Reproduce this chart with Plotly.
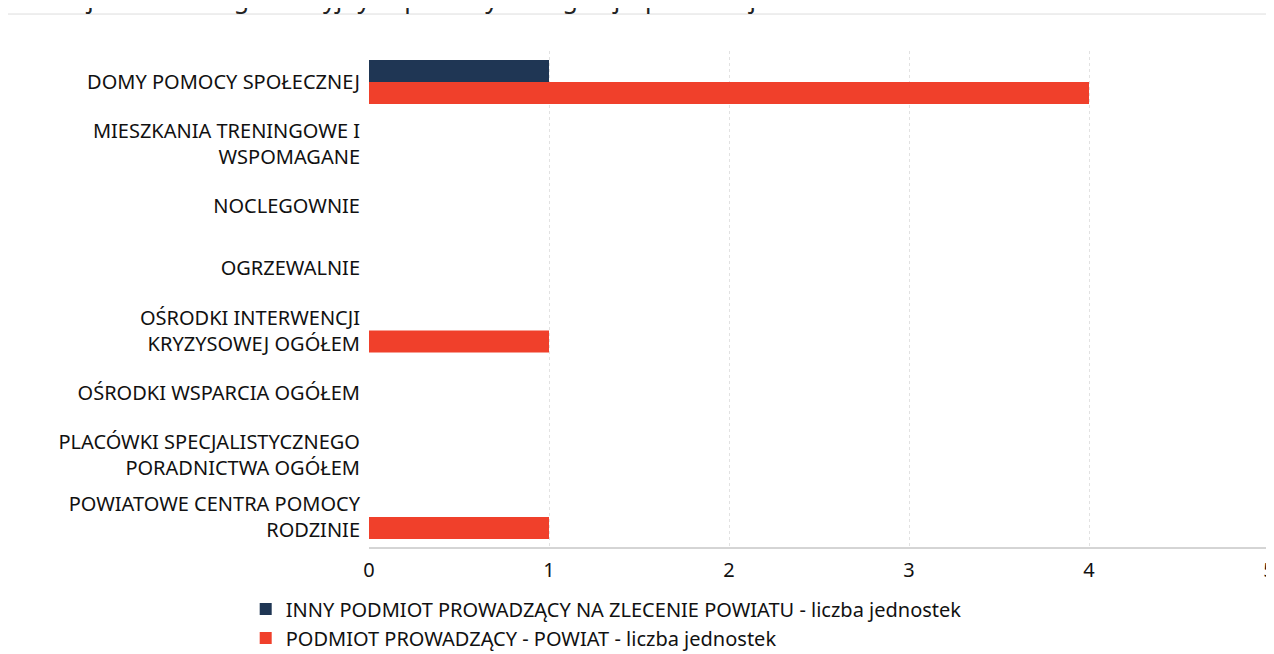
import plotly.graph_objects as go

categories = [
    "DOMY POMOCY SPOŁECZNEJ",
    "MIESZKANIA TRENINGOWE I<br>WSPOMAGANE",
    "NOCLEGOWNIE",
    "OGRZEWALNIE",
    "OŚRODKI INTERWENCJI<br>KRYZYSOWEJ OGÓŁEM",
    "OŚRODKI WSPARCIA OGÓŁEM",
    "PLACÓWKI SPECJALISTYCZNEGO<br>PORADNICTWA OGÓŁEM",
    "POWIATOWE CENTRA POMOCY<br>RODZINIE",
]
inny = [1, 0, 0, 0, 0, 0, 0, 0]
powiat = [4, 0, 0, 0, 1, 0, 0, 1]
x_ticks = [0, 1, 2, 3, 4, 5]

font = "Noto Sans"

fig = go.Figure()
fig.add_trace(go.Bar(
    y=categories, x=inny, orientation="h",
    name="INNY PODMIOT PROWADZĄCY NA ZLECENIE POWIATU - liczba jednostek",
    marker=dict(color="#1f3654", line=dict(width=0)),
))
fig.add_trace(go.Bar(
    y=categories, x=powiat, orientation="h",
    name="PODMIOT PROWADZĄCY - POWIAT - liczba jednostek",
    marker=dict(color="#f0402b", line=dict(width=0)),
))

fig.update_layout(
    width=1274, height=654,
    paper_bgcolor="white", plot_bgcolor="white",
    font=dict(family=font, size=20, color="#111"),
    barmode="group", bargap=0.29, bargroupgap=0,
    margin=dict(l=361, r=13, t=43, b=114, autoexpand=False),
    title=dict(
        text="Liczba jednostek organizacyjnych pomocy i integracji społecznej",
        x=0, xanchor="left", xref="container",
        y=1, yanchor="bottom", yref="container",
        pad=dict(b=0, t=0, l=0),
        font=dict(size=25, color="#222"),
    ),
    showlegend=True,
    legend=dict(
        orientation="v", x=-0.137, xanchor="left",
        y=0.111, yanchor="top", yref="container",
        font=dict(size=20, color="#111"), traceorder="normal",
        itemsizing="constant", tracegroupgap=0, itemwidth=30,
    ),
    xaxis=dict(
        range=[0, 5], tickvals=x_ticks, ticktext=[str(v) for v in x_ticks],
        showgrid=True, gridcolor="#e2e2e2", griddash="dot", gridwidth=1,
        zeroline=False, showline=False, ticks="", automargin=False,
        ticklabelstandoff=8,
        tickfont=dict(size=20, color="#111"),
    ),
    yaxis=dict(
        autorange="reversed", showgrid=False, zeroline=False,
        showline=False, ticks="", ticklabelstandoff=8, automargin=False,
        tickfont=dict(size=20, color="#111"),
    ),
    shapes=[
        dict(type="line", xref="paper", yref="paper",
             x0=-0.402, x1=0.997, y0=1.0744, y1=1.0744,
             line=dict(color="#dddddd", width=1)),
        dict(type="line", xref="paper", yref="paper",
             x0=0, x1=1.0, y0=0, y1=0,
             line=dict(color="#aaaaaa", width=1)),
    ],
)

fig.write_html("out.html")
